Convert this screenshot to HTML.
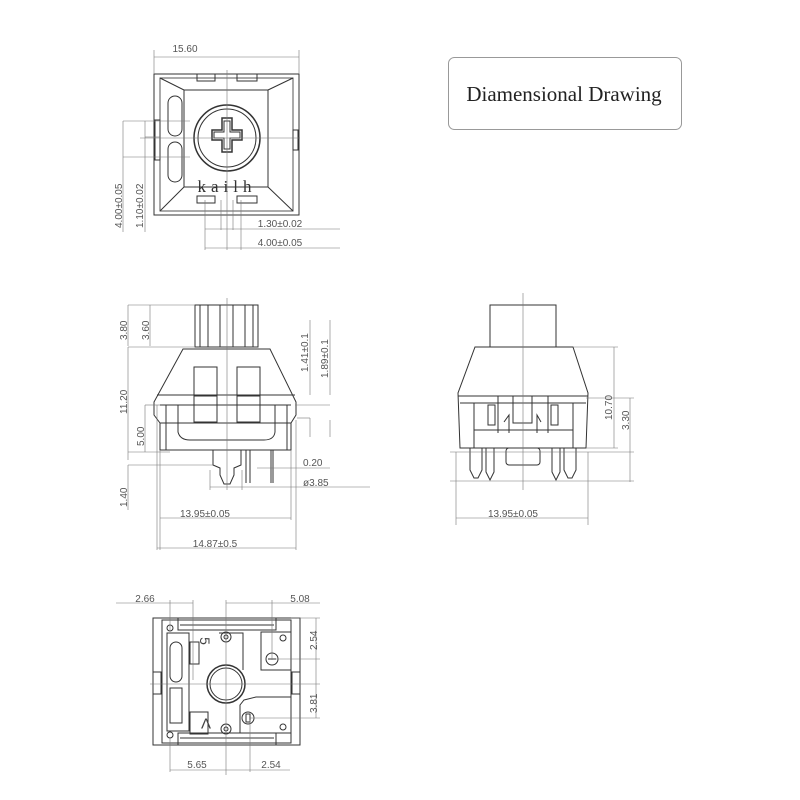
<!DOCTYPE html>
<html><head><meta charset="utf-8"><style>
html,body{margin:0;padding:0;background:#fff;}
svg{display:block}
text{font-family:"Liberation Sans",sans-serif;font-size:10px;fill:#555;}
</style></head><body>
<svg width="800" height="800" viewBox="0 0 800 800" xmlns="http://www.w3.org/2000/svg">
<g fill="none" stroke="#444" stroke-width="1">
<rect x="448.5" y="57.5" width="233" height="72" rx="6" stroke="#999"/>
</g>
<text x="564" y="101" text-anchor="middle" style="font-family:'Liberation Serif',serif;font-size:21px;fill:#222">Diamensional Drawing</text>

<!-- TOP VIEW -->
<g fill="none" stroke="#333" stroke-width="1">
<rect x="154" y="74" width="145" height="141"/>
<rect x="160" y="78" width="133" height="133" stroke="#555"/>
<rect x="184" y="90" width="84" height="97"/>
<line x1="160" y1="78" x2="184" y2="90"/><line x1="293" y1="78" x2="268" y2="90"/>
<line x1="160" y1="211" x2="184" y2="187"/><line x1="293" y1="211" x2="268" y2="187"/>
<rect x="197" y="74" width="18" height="7"/><rect x="237" y="74" width="20" height="7"/>
<rect x="197" y="196" width="18" height="7"/><rect x="237" y="196" width="20" height="7"/>
<rect x="168" y="96" width="14" height="40" rx="7"/>
<rect x="168" y="142" width="14" height="40" rx="7"/>
<rect x="155" y="120" width="5" height="40"/>
<rect x="293" y="130" width="5" height="20"/>
<circle cx="227" cy="138" r="33" stroke-width="1.5"/>
<circle cx="227" cy="138" r="29"/>
<path d="M222 118h10v12h10v10h-10v12h-10v-12h-10v-10h10z" stroke-width="1.5"/>
<path d="M224 121h6v11h10v6h-10v11h-6v-11h-10v-6h10z"/>
</g>
<text x="227" y="192" text-anchor="middle" style="font-family:'Liberation Serif',serif;font-size:17px;fill:#333;letter-spacing:5px">kailh</text>
<g stroke="#777" stroke-width="0.6" fill="none">
<line x1="154" y1="57" x2="299" y2="57"/><line x1="154" y1="50" x2="154" y2="74"/><line x1="299" y1="50" x2="299" y2="74"/>
<line x1="227" y1="70" x2="227" y2="250"/>
<line x1="140" y1="138" x2="300" y2="138"/>
<line x1="123" y1="121" x2="190" y2="121"/><line x1="123" y1="157" x2="190" y2="157"/>
<line x1="123" y1="121" x2="123" y2="232"/>
<line x1="145" y1="121" x2="145" y2="232"/><line x1="145" y1="137" x2="160" y2="137"/>
<line x1="205" y1="200" x2="205" y2="250"/><line x1="241" y1="200" x2="241" y2="250"/>
<line x1="221" y1="200" x2="221" y2="230"/><line x1="233" y1="200" x2="233" y2="230"/>
<line x1="205" y1="229" x2="340" y2="229"/><line x1="205" y1="248" x2="340" y2="248"/>
</g>
<text x="185" y="52" text-anchor="middle">15.60</text>
<text x="280" y="227" text-anchor="middle">1.30±0.02</text>
<text x="280" y="246" text-anchor="middle">4.00±0.05</text>
<text transform="translate(122,228) rotate(-90)">4.00±0.05</text>
<text transform="translate(143,228) rotate(-90)">1.10±0.02</text>

<!-- FRONT SIDE VIEW -->
<g fill="none" stroke="#333" stroke-width="1">
<rect x="195" y="305" width="63" height="42"/>
<line x1="200" y1="305" x2="200" y2="347"/><line x1="253" y1="305" x2="253" y2="347"/>
<line x1="208" y1="305" x2="208" y2="347"/><line x1="220" y1="305" x2="220" y2="347"/><line x1="233" y1="305" x2="233" y2="347"/><line x1="245" y1="305" x2="245" y2="347"/>
<path d="M183 349 L270 349 L296 402 L296 415 L291 423 L291 450 L160 450 L160 423 L154 415 L154 402 Z"/>
<line x1="157" y1="395" x2="295" y2="395"/>
<line x1="160" y1="405" x2="291" y2="405"/>
<line x1="160" y1="423" x2="291" y2="423"/>
<rect x="194" y="367" width="23" height="55"/><rect x="237" y="367" width="23" height="55"/>
<line x1="194" y1="396" x2="217" y2="396"/><line x1="237" y1="396" x2="260" y2="396"/>
<path d="M178 405 L178 432 Q180 440 190 440 L264 440 Q274 440 275 432 L275 405"/>
<line x1="166" y1="405" x2="166" y2="450"/><line x1="287" y1="405" x2="287" y2="450"/>
<path d="M213 450 L213 465 L220 468 L220 475 L224 484 L230 484 L234 475 L234 468 L241 465 L241 450"/>
<line x1="246" y1="450" x2="246" y2="483"/><line x1="250" y1="450" x2="250" y2="483"/>
<line x1="271" y1="450" x2="271" y2="483"/><line x1="273" y1="450" x2="273" y2="483"/>
</g>
<g stroke="#777" stroke-width="0.6" fill="none">
<line x1="227" y1="298" x2="227" y2="490"/>
<line x1="128" y1="305" x2="195" y2="305"/><line x1="128" y1="305" x2="128" y2="346"/>
<line x1="150" y1="305" x2="150" y2="346"/>
<line x1="128" y1="347" x2="195" y2="347"/>
<line x1="128" y1="347" x2="128" y2="460"/>
<line x1="128" y1="465" x2="128" y2="510"/><line x1="128" y1="465" x2="213" y2="465"/>
<line x1="145" y1="405" x2="160" y2="405"/><line x1="145" y1="405" x2="145" y2="452"/><line x1="128" y1="452" x2="170" y2="452"/>
<line x1="310" y1="320" x2="310" y2="395"/><line x1="330" y1="320" x2="330" y2="395"/>
<line x1="295" y1="405" x2="330" y2="405"/><line x1="297" y1="418" x2="310" y2="418"/>
<line x1="310" y1="418" x2="310" y2="437"/><line x1="330" y1="420" x2="330" y2="437"/>
<line x1="257" y1="468" x2="330" y2="468"/>
<line x1="210" y1="487" x2="370" y2="487"/>
<line x1="210" y1="470" x2="210" y2="490"/><line x1="242" y1="470" x2="242" y2="490"/>
<line x1="160" y1="450" x2="160" y2="550"/><line x1="157" y1="405" x2="157" y2="550"/>
<line x1="291" y1="450" x2="291" y2="520"/><line x1="296" y1="420" x2="296" y2="550"/>
<line x1="160" y1="518" x2="291" y2="518"/>
<line x1="157" y1="548" x2="296" y2="548"/>
</g>
<text transform="translate(127,340) rotate(-90)">3.80</text>
<text transform="translate(149,340) rotate(-90)">3.60</text>
<text transform="translate(127,414) rotate(-90)">11.20</text>
<text transform="translate(144,446) rotate(-90)">5.00</text>
<text transform="translate(127,507) rotate(-90)">1.40</text>
<text transform="translate(308,372) rotate(-90)">1.41±0.1</text>
<text transform="translate(328,378) rotate(-90)">1.89±0.1</text>
<text x="303" y="466">0.20</text>
<text x="303" y="486">ø3.85</text>
<text x="205" y="517" text-anchor="middle">13.95±0.05</text>
<text x="215" y="547" text-anchor="middle">14.87±0.5</text>

<!-- SIDE VIEW 2 -->
<g fill="none" stroke="#333" stroke-width="1">
<rect x="490" y="305" width="66" height="42"/>
<path d="M475 347 L573 347 L588 393 L586 448 L460 448 L458 393 Z"/>
<line x1="458" y1="396" x2="588" y2="396"/>
<line x1="460" y1="403" x2="586" y2="403"/>
<line x1="474" y1="403" x2="474" y2="448"/><line x1="573" y1="403" x2="573" y2="448"/>
<line x1="474" y1="430" x2="573" y2="430"/>
<rect x="488" y="405" width="7" height="20"/><rect x="551" y="405" width="7" height="20"/>
<path d="M498 396 L498 433 M548 396 L548 433 M513 396 L513 423 L532 423 L532 396"/>
<path d="M504 422 L509 415 L509 433 M541 422 L537 415 L537 433"/>
<rect x="506" y="448" width="34" height="17" rx="3"/>
<path d="M470 448 L470 470 L474 478 L478 478 L482 470 L482 448"/>
<path d="M486 448 L486 472 L490 480 L494 472 L494 448"/>
<path d="M552 448 L552 472 L556 480 L560 472 L560 448"/>
<path d="M564 448 L564 470 L568 478 L572 478 L576 470 L576 448"/>
</g>
<g stroke="#777" stroke-width="0.6" fill="none">
<line x1="523" y1="293" x2="523" y2="490"/>
<line x1="573" y1="347" x2="618" y2="347"/><line x1="614" y1="347" x2="614" y2="448"/>
<line x1="586" y1="448" x2="618" y2="448"/>
<line x1="586" y1="398" x2="634" y2="398"/><line x1="630" y1="398" x2="630" y2="482"/>
<line x1="450" y1="452" x2="634" y2="452"/><line x1="450" y1="481" x2="634" y2="481"/>
<line x1="456" y1="452" x2="456" y2="525"/><line x1="588" y1="452" x2="588" y2="525"/>
<line x1="456" y1="518" x2="588" y2="518"/>
</g>
<text transform="translate(612,420) rotate(-90)">10.70</text>
<text transform="translate(629,430) rotate(-90)">3.30</text>
<text x="513" y="517" text-anchor="middle">13.95±0.05</text>

<!-- BOTTOM VIEW -->
<g fill="none" stroke="#333" stroke-width="1">
<rect x="153" y="618" width="147" height="127"/>
<rect x="162" y="620" width="129" height="123"/>
<rect x="178" y="618" width="98" height="12"/><rect x="178" y="733" width="98" height="12"/>
<line x1="180" y1="625" x2="274" y2="625"/><line x1="180" y1="738" x2="274" y2="738"/>
<rect x="167" y="633" width="22" height="98"/>
<rect x="170" y="642" width="12" height="40" rx="6"/><rect x="170" y="688" width="12" height="35"/>
<rect x="190" y="642" width="9" height="22"/><rect x="190" y="712" width="18" height="22"/>
<rect x="153" y="672" width="8" height="22"/><rect x="292" y="672" width="8" height="22"/>
<circle cx="170" cy="628" r="3"/><circle cx="170" cy="735" r="3"/>
<circle cx="226" cy="637" r="5"/><circle cx="226" cy="637" r="2"/>
<circle cx="226" cy="729" r="5"/><circle cx="226" cy="729" r="2"/>
<circle cx="226" cy="684" r="19" stroke-width="1.5"/><circle cx="226" cy="684" r="16"/>
<path d="M219 633 L243 633 L243 670"/>
<path d="M261 632 L291 632 L291 670 L261 670 Z"/>
<circle cx="272" cy="659" r="6"/><line x1="268" y1="659" x2="276" y2="659"/>
<circle cx="283" cy="638" r="3"/>
<path d="M244 700 L256 697 L291 697 L291 733 L240 733 L240 705 Z"/>
<circle cx="248" cy="718" r="6"/><rect x="246" y="714" width="4" height="8"/>
<circle cx="283" cy="727" r="3"/>
</g>
<text x="0" y="0" text-anchor="middle" dominant-baseline="central" transform="translate(205,641) rotate(90)" style="font-size:14px;fill:#444">5</text>
<text x="0" y="0" text-anchor="middle" dominant-baseline="central" transform="translate(206,723) rotate(180)" style="font-size:15px;fill:#444">V</text>
<g stroke="#777" stroke-width="0.6" fill="none">
<line x1="116" y1="603" x2="193" y2="603"/>
<line x1="170" y1="600" x2="170" y2="630"/><line x1="193" y1="600" x2="193" y2="680"/>
<line x1="226" y1="600" x2="226" y2="775"/><line x1="226" y1="603" x2="320" y2="603"/>
<line x1="272" y1="600" x2="272" y2="660"/>
<line x1="291" y1="618" x2="320" y2="618"/><line x1="316" y1="618" x2="316" y2="718"/>
<line x1="276" y1="659" x2="320" y2="659"/>
<line x1="150" y1="684" x2="320" y2="684"/>
<line x1="250" y1="718" x2="320" y2="718"/>
<line x1="170" y1="738" x2="170" y2="772"/><line x1="250" y1="720" x2="250" y2="772"/>
<line x1="170" y1="770" x2="290" y2="770"/>
</g>
<text x="145" y="602" text-anchor="middle">2.66</text>
<text x="300" y="602" text-anchor="middle">5.08</text>
<text transform="translate(317,650) rotate(-90)">2.54</text>
<text transform="translate(317,713) rotate(-90)">3.81</text>
<text x="197" y="768" text-anchor="middle">5.65</text>
<text x="271" y="768" text-anchor="middle">2.54</text>
</svg>
</body></html>
